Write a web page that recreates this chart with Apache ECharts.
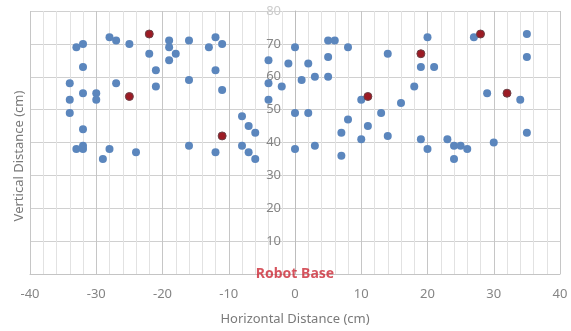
<!DOCTYPE html>
<html>
<head>
<meta charset="utf-8">
<script src="https://cdn.jsdelivr.net/npm/echarts@6/dist/echarts.min.js"></script>
<style>
  html, body { margin: 0; padding: 0; background: #fff; }
  #chart { width: 571px; height: 331px; }
</style>
</head>
<body>
<div id="chart"></div>
<script>
const bluePoints = [
  [-28, 72], [-27, 71], [-19, 71], [-16, 71], [-32, 70], [-33, 69], [-25, 70],
  [-22, 67], [-19, 69], [-18, 67], [-19, 65], [-32, 63], [-21, 62], [-16, 59],
  [-34, 58], [-27, 58], [-21, 57], [-32, 55], [-30, 55], [-30, 53], [-34, 53],
  [-34, 49], [-32, 44], [-32, 39], [-33, 38], [-32, 38], [-28, 38], [-24, 37],
  [-16, 39], [-29, 35],
  [-13, 69], [-12, 72], [-11, 70], [-12, 62], [-11, 56], [-12, 37], [-8, 48],
  [-7, 45], [-6, 43], [-8, 39], [-7, 37], [-6, 35], [-4, 65], [-4, 58],
  [-2, 57], [-4, 53], [-1, 64], [0, 69], [1, 59], [2, 64], [3, 60], [5, 60],
  [5, 66], [5, 71], [6, 71], [8, 69], [14, 67], [0, 49], [2, 49], [0, 38],
  [3, 39], [8, 47], [7, 43], [7, 36], [10, 53], [11, 45], [10, 41], [13, 49],
  [14, 42],
  [20, 72], [19, 63], [21, 63], [18, 57], [16, 52], [19, 41], [20, 38],
  [27, 72], [35, 73], [35, 66], [29, 55], [34, 53], [35, 43], [23, 41],
  [24, 39], [25, 39], [26, 38], [24, 35], [30, 40]
];
const redPoints = [
  [-22, 73], [-25, 54], [-11, 42], [11, 54], [19, 67], [28, 73], [32, 55]
];
const basePoint = [[0, 0]];

const xTitle = 'Horizontal Distance (cm)';
const yTitle = 'Vertical Distance (cm)';
const baseLabel = 'Robot Base';

const FONT = 'Noto Sans';
const labelGray = '#858585';

const GRID_LEFT = 30, GRID_RIGHT = 11;
const chartWidth = 571;

const chart = echarts.init(document.getElementById('chart'));

// y axis sits at x = 0, i.e. the middle of the grid
const plotWidth = chartWidth - GRID_LEFT - GRID_RIGHT;

chart.setOption({
  animation: false,
  grid: { left: GRID_LEFT, right: GRID_RIGHT, top: 11, bottom: 51 },
  xAxis: {
    type: 'value',
    min: -40,
    max: 40,
    interval: 10,
    name: xTitle,
    nameLocation: 'middle',
    nameGap: 39,
    nameTextStyle: { color: '#7a7a7a', fontSize: 13, fontFamily: FONT },
    axisLine: { onZero: false, lineStyle: { color: '#c4c4c4' } },
    axisTick: { show: false },
    axisLabel: {
      color: labelGray, fontSize: 13, fontFamily: FONT, margin: 14,
      showMinLabel: true, showMaxLabel: true
    },
    splitLine: { show: true, lineStyle: { color: '#c6c6c6' } },
    minorTick: { show: true, splitNumber: 5, length: 0 },
    minorSplitLine: { show: true, lineStyle: { color: '#e2e2e2' } }
  },
  yAxis: {
    type: 'value',
    min: 0,
    max: 80,
    interval: 10,
    position: 'left',
    offset: -plotWidth / 2,
    axisLine: { show: true, onZero: false, lineStyle: { color: '#bdbdbd' } },
    axisTick: { show: false },
    axisLabel: {
      fontSize: 13, fontFamily: FONT, margin: 14,
      formatter: (v) => (v === 0 ? '' : String(v)),
      color: (v) => (Number(v) === 80 ? '#cccccc' : labelGray)
    },
    splitLine: { show: true, lineStyle: { color: '#d0d0d0' } }
  },
  graphic: [{
    type: 'text',
    x: 19,
    y: 156,
    rotation: Math.PI / 2,
    style: {
      text: yTitle,
      fill: '#7a7a7a',
      font: '13px "Noto Sans"',
      align: 'center',
      verticalAlign: 'middle'
    }
  }],
  series: [
    {
      type: 'scatter',
      data: bluePoints,
      symbolSize: 8,
      itemStyle: { color: '#5b86bd', opacity: 1 }
    },
    {
      type: 'scatter',
      data: redPoints,
      symbolSize: 8,
      itemStyle: { color: '#9c1b24', borderColor: '#6b4046', borderWidth: 1, opacity: 1 }
    },
    {
      type: 'scatter',
      data: basePoint,
      symbolSize: 0,
      silent: true,
      label: {
        show: true,
        position: 'inside',
        formatter: baseLabel,
        color: '#cc2936',
        fontSize: 14,
        fontWeight: 'bold',
        fontFamily: FONT
      },
      z: 5
    }
  ]
});
</script>
</body>
</html>
